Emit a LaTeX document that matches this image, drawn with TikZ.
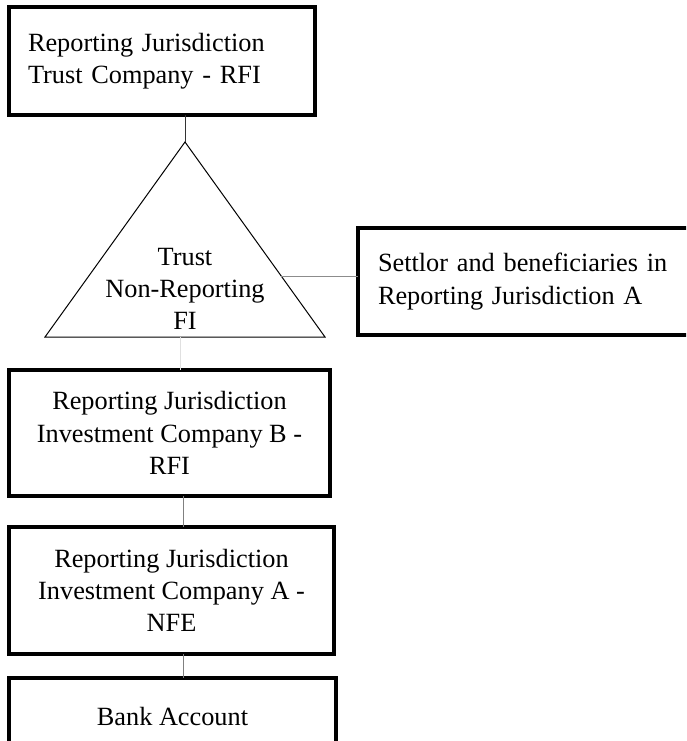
\documentclass[tikz,border=0pt]{standalone}
\usepackage{fontspec}
\setmainfont{Liberation Serif}
\usepackage{tikz}
\usetikzlibrary{positioning}

\tikzset{
	box/.style={draw,line width=4pt,outer sep=0pt,anchor=north west,
		font=\fontsize{26.3}{32.3}\selectfont},
	link/.style={line width=1pt}
}

\begin{document}
\begin{tikzpicture}[x=1pt,y=-1pt]
		\clip (0,0) rectangle (686,741);

		% >>> boxes
		\node[box,align=left,text width=268pt,inner xsep=19pt,minimum height=108pt] (trustco) at (9,7)
			{Reporting Jurisdiction\\Trust Company - RFI};
		\node[box,align=left,text width=330pt,inner xsep=20pt,minimum height=107pt] (settlor) at (358,228)
			{Settlor and beneficiaries in\\Reporting Jurisdiction A};
		\node[box,align=center,minimum width=321pt,minimum height=126pt] (invb) at (9,370)
			{Reporting Jurisdiction\\Investment Company B -\\RFI};
		\node[box,align=center,minimum width=325pt,minimum height=127pt] (inva) at (9,527)
			{Reporting Jurisdiction\\Investment Company A -\\NFE};
		\node[box,align=center,minimum width=327pt,minimum height=76pt] (bank) at (9,678)
			{Bank Account};
		% <<< boxes

		% >>> trust
		\coordinate (apex) at (185,142);
		\coordinate (bl) at (45,337);
		\coordinate (br) at (325,337);
		\draw[link] (apex) -- (br) -- (bl) -- cycle;
		\node[font=\fontsize{26.3}{32.3}\selectfont,align=center] (trust) at (185,289)
			{Trust\\Non-Reporting\\FI};
		% <<< trust

		% >>> links
		\coordinate (tside) at (281,276);
		\coordinate (tbase) at (180,337);
		\coordinate (ba) at (183,510);
		\coordinate (ak) at (183,665);
		\draw[link,black!80] (apex |- trustco.south) -- (apex);
		\draw[link,black!45] (tside) -- (tside -| settlor.west);
		\draw[link,black!12] (tbase) -- (tbase |- invb.north);
		\draw[link,black!50] (ba |- invb.south) -- (ba |- inva.north);
		\draw[link,black!50] (ak |- inva.south) -- (ak |- bank.north);
		% <<< links

	\end{tikzpicture}
\end{document}
